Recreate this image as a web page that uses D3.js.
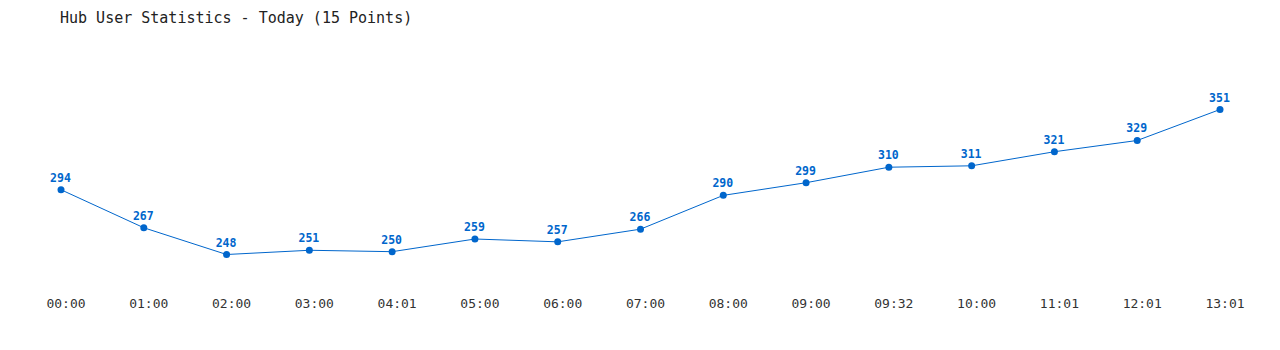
<!DOCTYPE html>
<html>
<head>
<meta charset="utf-8">
<script src="https://cdn.jsdelivr.net/npm/d3@7"></script>
<style>
  body { margin: 0; background: #fff; }
  svg text { font-family: "DejaVu Sans Mono", "Liberation Mono", monospace; }
</style>
</head>
<body>
<div id="chart"></div>
<script>
// data
let times = ["00:00", "01:00", "02:00", "03:00", "04:01", "05:00", "06:00", "07:00",
             "08:00", "09:00", "09:32", "10:00", "11:01", "12:01", "13:01"];
let users = [294, 267, 248, 251, 250, 259, 257, 266, 290, 299, 310, 311, 321, 329, 351];

let width = 1280;
let height = 350;
let color = "#0066cc";

let svg = d3.select("#chart").append("svg")
  .attr("width", width)
  .attr("height", height);

// title
svg.append("text")
  .attr("x", 60)
  .attr("y", 23)
  .style("font-size", "15px")
  .style("fill", "#222")
  .text("Hub User Statistics - Today (15 Points)");

let x = d3.scalePoint().domain(times).range([61, 1220]);
let y = d3.scaleLinear().domain([d3.min(users), d3.max(users)]).range([254.5, 109.5]);

let pts = times.map(function(t, i) { return {t: t, v: users[i]}; });

// x labels (sit a bit right of the points)
svg.append("g").selectAll("text")
  .data(times)
  .enter().append("text")
  .attr("x", function(d) { return x(d) + 5; })
  .attr("y", 308)
  .attr("text-anchor", "middle")
  .style("font-size", "13px")
  .style("fill", "#333")
  .text(function(d) { return d; });

let line = d3.line()
  .x(function(d) { return x(d.t); })
  .y(function(d) { return y(d.v); });

svg.append("path")
  .datum(pts)
  .attr("d", line)
  .attr("fill", "none")
  .attr("stroke", color)
  .attr("stroke-width", 1);

svg.append("g").selectAll("circle")
  .data(pts)
  .enter().append("circle")
  .attr("cx", function(d) { return x(d.t); })
  .attr("cy", function(d) { return y(d.v); })
  .attr("r", 3.5)
  .attr("fill", color);

svg.append("g").selectAll("text")
  .data(pts)
  .enter().append("text")
  .attr("x", function(d) { return x(d.t) - 0.5; })
  .attr("y", function(d) { return y(d.v) - 8; })
  .attr("text-anchor", "middle")
  .style("font-size", "11.5px")
  .style("font-weight", "bold")
  .style("fill", color)
  .text(function(d) { return d.v; });
</script>
</body>
</html>
